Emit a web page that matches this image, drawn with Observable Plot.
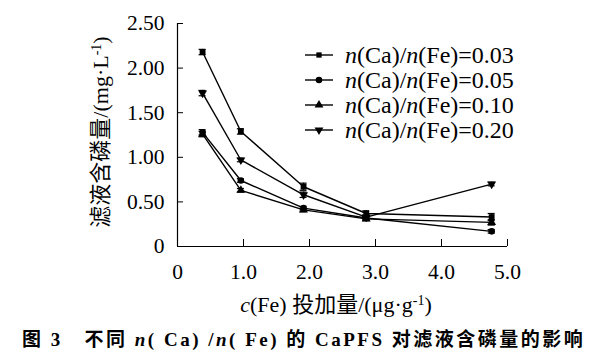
<!DOCTYPE html>
<html><head><meta charset="utf-8">
<script src="https://cdn.jsdelivr.net/npm/d3@7"></script>
<script src="https://cdn.jsdelivr.net/npm/@observablehq/plot@0.6"></script>
<style>
body{margin:0;background:#fff;}
#wrap{width:609px;}
#cap{height:39px;font-family:"Liberation Serif","DejaVu Serif","Noto Sans CJK SC";font-weight:bold;font-size:19px;letter-spacing:2.5px;line-height:30px;padding-left:22px;white-space:pre;color:#000;}
</style></head>
<body><div id="wrap"><div id="chart"></div><div id="cap">图 3   不同 <i>n</i>( Ca) /<i>n</i>( Fe) 的 CaPFS 对滤液含磷量的影响</div></div>
<script>
const xDose = [0.38, 0.96, 1.91, 2.86, 4.76];
const seriesNames = ["0.03", "0.05", "0.10", "0.20"];
const s003 = [2.18, 1.29, 0.67, 0.37, 0.33];
const s005 = [1.28, 0.74, 0.43, 0.32, 0.17];
const s010 = [1.26, 0.63, 0.41, 0.31, 0.27];
const s020 = [1.72, 0.97, 0.58, 0.33, 0.70];
const e003 = [0.03, 0.03, 0.04, 0.03, 0.04];
const e005 = [0.03, 0.02, 0.02, 0.02, 0.02];
const e010 = [0.03, 0.02, 0.02, 0.02, 0.03];
const e020 = [0.03, 0.02, 0.03, 0.02, 0.02];
const yTicks = [0, 0.5, 1, 1.5, 2, 2.5];
const yTickLabels = ["0", "0.50", "1.00", "1.50", "2.00", "2.50"];
const xTicks = [0, 1, 2, 3, 4, 5];
const xTickLabels = ["0", "1.0", "2.0", "3.0", "4.0", "5.0"];

const invTriangle = {
  draw(ctx, size) {
    const s = Math.sqrt(size / (Math.sqrt(3) / 4));
    const h = s * Math.sqrt(3) / 2;
    ctx.moveTo(-s / 2, -h / 3);
    ctx.lineTo(s / 2, -h / 3);
    ctx.lineTo(0, 2 * h / 3);
    ctx.closePath();
  }
};
const symbols = ["square", "circle", "triangle", invTriangle];
const vals = [s003, s005, s010, s020];
const errs = [e003, e005, e010, e020];

const data = [];
seriesNames.forEach((name, i) => {
  xDose.forEach((x, j) => data.push({series: name, idx: i, x, y: vals[i][j], e: errs[i][j]}));
});

const ff = "'Liberation Serif', 'DejaVu Serif', 'Noto Sans CJK SC'";
const W = 609, H = 325;
const marks = [
  Plot.ruleY([0], {stroke: "#000", strokeWidth: 1.2}),
  Plot.ruleX([0], {stroke: "#000", strokeWidth: 1.2}),
  Plot.axisY({ticks: yTicks, tickFormat: (d) => yTickLabels[yTicks.indexOf(d)], tickSize: 0, tickPadding: 13, fontSize: 21.5, label: null}),
  Plot.axisY({ticks: yTicks, tickSize: -6, label: null, tickFormat: () => ""}),
  Plot.axisX({ticks: xTicks, tickFormat: d => xTickLabels[xTicks.indexOf(d)], tickSize: 0, tickPadding: 17, fontSize: 21.5, label: null}),
  Plot.axisX({ticks: xTicks.slice(1), tickSize: -7, label: null, tickFormat: () => ""}),
  Plot.line(data, {x: "x", y: "y", z: "series", stroke: "#000", strokeWidth: 1.4}),
  Plot.ruleX(data, {x: "x", y1: d => d.y - d.e, y2: d => d.y + d.e, stroke: "#000", strokeWidth: 1.2}),
  Plot.ruleY(data, {y: d => d.y - d.e, x1: "x", x2: "x", insetLeft: -3.5, insetRight: -3.5, stroke: "#000", strokeWidth: 1.2}),
  Plot.ruleY(data, {y: d => d.y + d.e, x1: "x", x2: "x", insetLeft: -3.5, insetRight: -3.5, stroke: "#000", strokeWidth: 1.2})
];
seriesNames.forEach((name, i) => {
  marks.push(Plot.dot(data.filter(d => d.idx === i), {x: "x", y: "y", symbol: symbols[i], r: 3.3, fill: "#000", stroke: "none"}));
});

const chart = Plot.plot({
  width: W, height: H,
  marginLeft: 177, marginRight: 102, marginTop: 23, marginBottom: H - 246,
  style: {fontFamily: ff, fontSize: "21.5px", color: "#000", background: "#fff"},
  x: {domain: [0, 5]},
  y: {domain: [0, 2.5]},
  marks
});
document.getElementById("chart").appendChild(chart);

const svg = d3.select(chart);
// legend
const lg = svg.append("g").attr("font-family", ff).attr("font-size", 24).attr("fill", "#000").attr("text-anchor", "start");
const legendRowY = [55, 80, 105, 130];
seriesNames.forEach((name, i) => {
  const y = legendRowY[i];
  lg.append("line").attr("x1", 305).attr("x2", 333).attr("y1", y).attr("y2", y).attr("stroke", "#000").attr("stroke-width", 1.4);
  lg.append("path").attr("transform", `translate(319,${y})`)
    .attr("d", d3.symbol(i === 3 ? invTriangle : [d3.symbolSquare, d3.symbolCircle, d3.symbolTriangle][i], i === 0 ? 28 : 34)()).attr("fill", "#000");
  const t = lg.append("text").attr("x", 345).attr("y", y).attr("dy", "0.35em");
  t.append("tspan").attr("font-style", "italic").text("n");
  t.append("tspan").text("(Ca)/");
  t.append("tspan").attr("font-style", "italic").text("n");
  t.append("tspan").text("(Fe)=" + name);
});
// y label
const yl = svg.append("text").attr("transform", "translate(100,132) rotate(-90)")
  .attr("text-anchor", "middle").attr("dy", "0.35em").attr("font-family", ff).attr("font-size", 22).attr("fill", "#000");
yl.append("tspan").text("滤液含磷量/(mg·L");
yl.append("tspan").attr("font-size", 14).attr("baseline-shift", "super").text("-1");
yl.append("tspan").text(")");
// x label
const xl = svg.append("text").attr("x", 336).attr("y", 304)
  .attr("text-anchor", "middle").attr("dy", "0.35em").attr("font-family", ff).attr("font-size", 22).attr("fill", "#000");
xl.append("tspan").attr("font-style", "italic").text("c");
xl.append("tspan").text("(Fe) 投加量/(μg·g");
xl.append("tspan").attr("font-size", 14).attr("baseline-shift", "super").text("-1");
xl.append("tspan").text(")");
</script></body></html>
